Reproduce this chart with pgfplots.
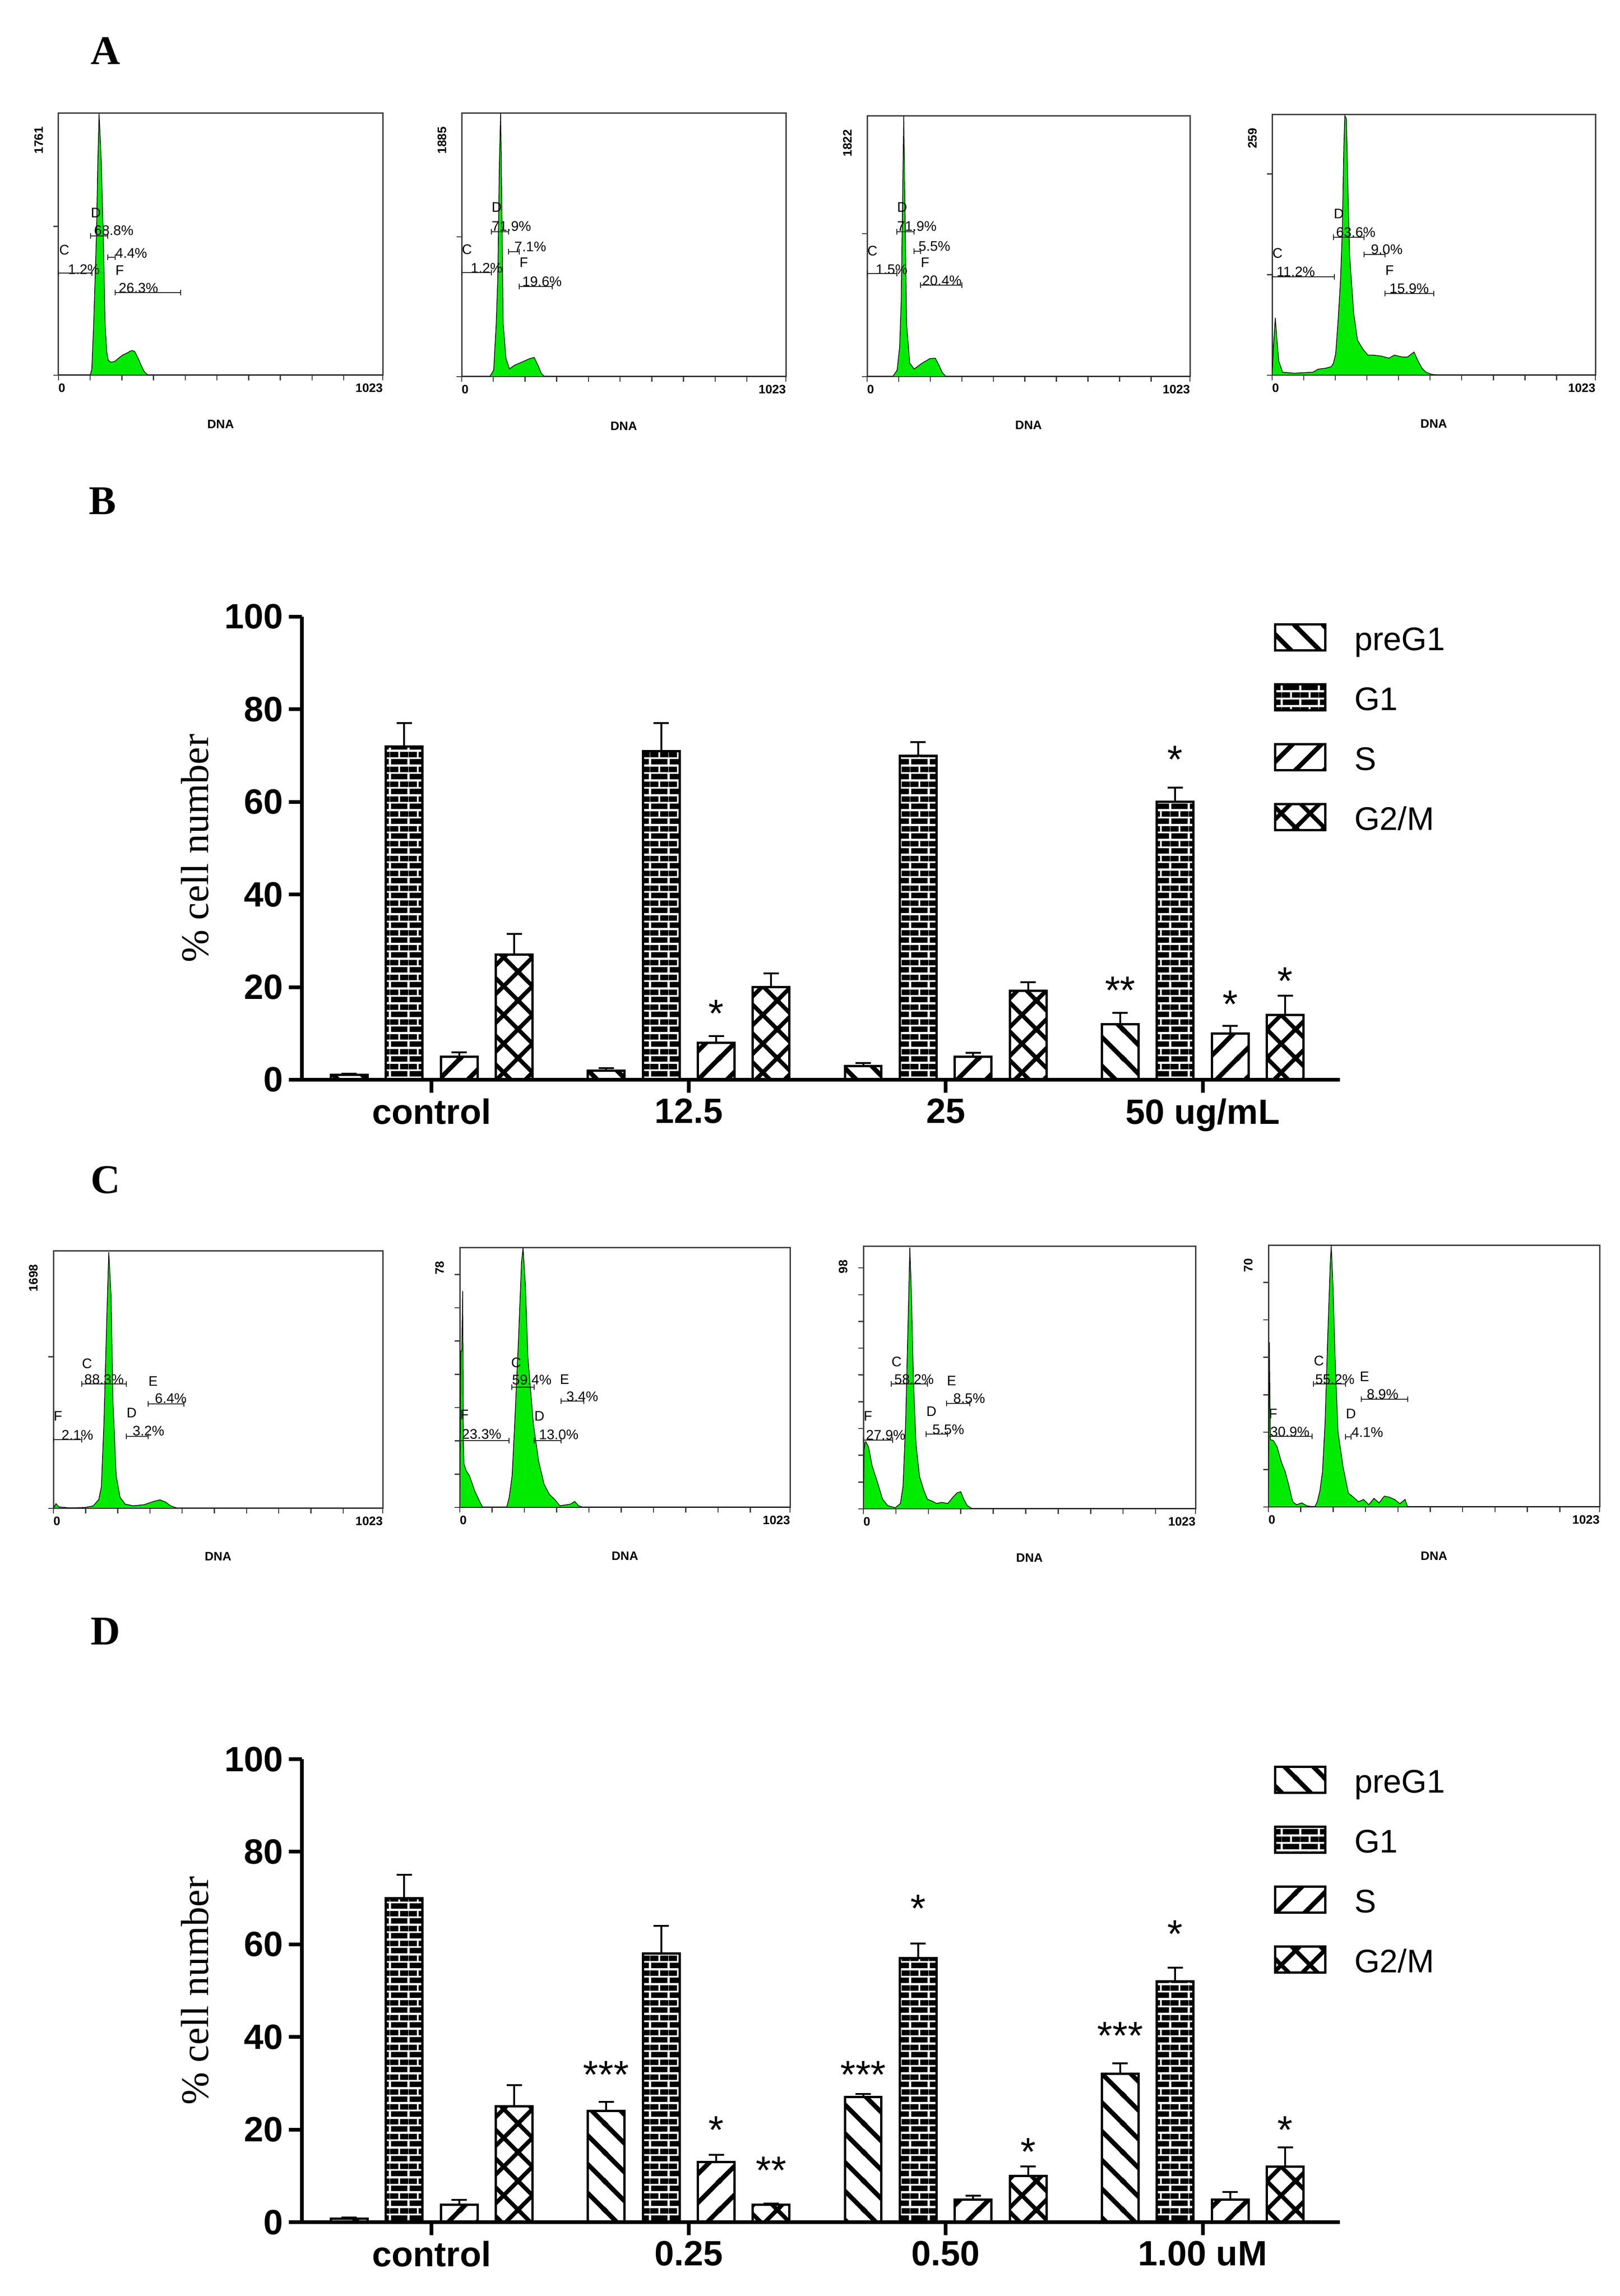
\documentclass[border=0pt]{standalone}
\usepackage{fontspec}
\usepackage{pgfplots}
\pgfplotsset{compat=1.18}
\usetikzlibrary{patterns}
\newfontfamily\arial{Liberation Sans}
\newfontfamily\tnr{Liberation Serif}
\newcommand\tickfont{\arial\bfseries\fontsize{21.5}{25}\selectfont}
\newcommand\legfont{\arial\fontsize{20}{24}\selectfont}
\newcommand\starfont{\arial\fontsize{24}{28}\selectfont}
\newcommand\ylfont{\tnr\fontsize{24}{28}\selectfont}
\newcommand\hfont{\arial\bfseries\fontsize{7.5}{9}\selectfont}
\newcommand\afont{\arial\fontsize{8.5}{10}\selectfont}
\newcommand\panelfont{\tnr\bfseries\fontsize{25}{30}\selectfont}
\definecolor{hgreen}{RGB}{0,235,0}

\pgfdeclarepatternformonly{mynwl}{\pgfqpoint{0mm}{0mm}}{\pgfqpoint{6.2mm}{6.2mm}}{\pgfqpoint{6.2mm}{6.2mm}}{%
  \pgfsetlinewidth{1mm}%
  \pgfpathmoveto{\pgfqpoint{-1mm}{7.2mm}}\pgfpathlineto{\pgfqpoint{7.2mm}{-1mm}}%
  \pgfpathmoveto{\pgfqpoint{-1mm}{1mm}}\pgfpathlineto{\pgfqpoint{1mm}{-1mm}}%
  \pgfpathmoveto{\pgfqpoint{5.2mm}{7.2mm}}\pgfpathlineto{\pgfqpoint{7.2mm}{5.2mm}}%
  \pgfusepath{stroke}}
\pgfdeclarepatternformonly{mynel}{\pgfqpoint{0mm}{0mm}}{\pgfqpoint{6.2mm}{6.2mm}}{\pgfqpoint{6.2mm}{6.2mm}}{%
  \pgfsetlinewidth{1mm}%
  \pgfpathmoveto{\pgfqpoint{-1mm}{-1mm}}\pgfpathlineto{\pgfqpoint{7.2mm}{7.2mm}}%
  \pgfpathmoveto{\pgfqpoint{-1mm}{5.2mm}}\pgfpathlineto{\pgfqpoint{1mm}{7.2mm}}%
  \pgfpathmoveto{\pgfqpoint{5.2mm}{-1mm}}\pgfpathlineto{\pgfqpoint{7.2mm}{1mm}}%
  \pgfusepath{stroke}}
\pgfdeclarepatternformonly{myxhatch}{\pgfqpoint{0mm}{0mm}}{\pgfqpoint{6.2mm}{6.2mm}}{\pgfqpoint{6.2mm}{6.2mm}}{%
  \pgfsetlinewidth{0.9mm}%
  \pgfpathmoveto{\pgfqpoint{-1mm}{7.2mm}}\pgfpathlineto{\pgfqpoint{7.2mm}{-1mm}}%
  \pgfpathmoveto{\pgfqpoint{-1mm}{1mm}}\pgfpathlineto{\pgfqpoint{1mm}{-1mm}}%
  \pgfpathmoveto{\pgfqpoint{5.2mm}{7.2mm}}\pgfpathlineto{\pgfqpoint{7.2mm}{5.2mm}}%
  \pgfpathmoveto{\pgfqpoint{-1mm}{-1mm}}\pgfpathlineto{\pgfqpoint{7.2mm}{7.2mm}}%
  \pgfpathmoveto{\pgfqpoint{-1mm}{5.2mm}}\pgfpathlineto{\pgfqpoint{1mm}{7.2mm}}%
  \pgfpathmoveto{\pgfqpoint{5.2mm}{-1mm}}\pgfpathlineto{\pgfqpoint{7.2mm}{1mm}}%
  \pgfusepath{stroke}}
\pgfdeclarepatternformonly{mybricks}{\pgfqpoint{0mm}{0mm}}{\pgfqpoint{4mm}{3.2mm}}{\pgfqpoint{4mm}{3.2mm}}{%
  \pgfpathrectangle{\pgfqpoint{0.2mm}{0.2mm}}{\pgfqpoint{3.6mm}{1.2mm}}%
  \pgfpathrectangle{\pgfqpoint{0mm}{1.8mm}}{\pgfqpoint{1.8mm}{1.2mm}}%
  \pgfpathrectangle{\pgfqpoint{2.2mm}{1.8mm}}{\pgfqpoint{1.8mm}{1.2mm}}%
  \pgfusepath{fill}}

\pgfplotsset{
  hist/.style={scale only axis, anchor=south west, xmin=0, xmax=1023, ymin=0,
    axis line style={line width=0.3mm, black!75},
    tick style={line width=0.25mm, black!75},
    tick align=outside, major tick length=1.1mm, tick pos=left,
    xtick={0,100,200,300,400,500,600,700,800,900,1023},
    xticklabels={{\rlap{0}},,,,,,,,,,{\llap{1023}}},
    xticklabel style={font=\hfont, inner sep=0pt, anchor=north, yshift=-0.6mm},
    yticklabels={},
    xlabel={DNA},
    xlabel style={font=\hfont, at={(axis description cs:0.5,-0.187)}, anchor=center},
    ylabel style={font=\hfont, at={(axis description cs:-0.061,0.95)}, anchor=east, inner sep=0pt}},
  hplot/.style={fill=hgreen, draw=black, line width=0.15mm},
  barax/.style={scale only axis, anchor=south west, width=223.5mm, height=99.7mm,
    xmin=-0.505, xmax=3.534, ymin=0, ymax=100, clip=false,
    axis x line*=bottom, axis y line*=left,
    axis line style={line width=0.8mm, black},
    tick style={line width=0.8mm, black}, tick align=outside, major tick length=2.8mm,
    xtick={0,1,2,3},
    ytick={0,20,40,60,80,100}, yticklabels={0,20,40,60,80,100},
    ticklabel style={font=\tickfont},
    ylabel={\% cell number},
    ylabel style={font=\ylfont, at={(axis description cs:-0.103,0.5)}, anchor=center},
    legend cell align=left,
    legend style={at={(axis description cs:0.9365,0.987)}, anchor=north west, draw=none, fill=none,
      inner sep=0pt, outer sep=0pt, font=\legfont, row sep=5.3mm, column sep=6mm,
      nodes={inner sep=0pt, text height=6mm, text depth=1.6mm}}},
  mybar/.style={ybar, bar width=0.1426, bar shift=0pt, draw=black, line width=0.5mm,
    legend image code/.code={\draw[##1, line width=0.5mm] (0mm,-2.2mm) rectangle (10.8mm,3.4mm);},
    error bars/y dir=plus, error bars/y explicit,
    error bars/error bar style={line width=0.4mm, black, solid},
    error bars/error mark options={rotate=90, mark size=1.65mm, line width=0.4mm, black}},
  stars/.style={only marks, mark=*, mark size=0pt, mark options={draw=none, fill=none},
    nodes near coords={\pgfplotspointmeta}, point meta=explicit symbolic,
    nodes near coords align={anchor=base},
    every node near coord/.append style={font=\starfont, inner sep=0pt, anchor=base, yshift=-4.9mm}}
}

\newcommand\ann[3]{\node[anchor=base west, inner sep=0pt, font=\afont] at (#1,#2) {#3};}
\newcommand\gate[3]{\draw[line width=0.2mm, black!85] (#1,#3-6) -- (#1,#3+6) (#1,#3) -- (#2,#3) (#2,#3-6) -- (#2,#3+6);}

\begin{document}
\begin{tikzpicture}
\path[use as bounding box] (0,0) rectangle (348.8mm,494.4mm);

% panel letters
\node[font=\panelfont] at (22.7mm,483.4mm) {A};
\node[font=\panelfont] at (22.1mm,386.5mm) {B};
\node[font=\panelfont] at (22.7mm,240.3mm) {C};
\node[font=\panelfont] at (22.7mm,143.1mm) {D};

% ---------- Panel A histograms ----------
\begin{axis}[hist, at={(12.6mm,413.6mm)}, width=69.8mm, height=56.4mm, ymax=1761, ytick={0,1000}, ylabel={1761}]
\addplot[hplot] coordinates {(0,0) (100,0) (105,40) (111,345) (120,966) (124,1432) (128,1761) (135,1432) (141,966) (147,345) (152,160) (157,100) (165,88) (177,92) (190,115) (202,135) (215,148) (225,160) (232,166) (240,160) (250,120) (260,70) (270,26) (282,0) (1023,0)} \closedcycle;
\end{axis}
\begin{axis}[hist, at={(99.4mm,413.3mm)}, width=69.8mm, height=56.7mm, ymax=1885, ytick={0,1000}, ylabel={1885}]
\addplot[hplot] coordinates {(0,0) (89,0) (101,46) (109,377) (114,708) (119,1535) (123,1885) (126,1369) (131,377) (140,129) (151,55) (165,79) (190,104) (215,129) (229,137) (241,79) (252,21) (262,0) (1023,0)} \closedcycle;
\end{axis}
\begin{axis}[hist, at={(186.7mm,413.3mm)}, width=69.5mm, height=56.1mm, ymax=1822, ytick={0,1000}, ylabel={1822}]
\addplot[hplot] coordinates {(0,0) (81,0) (95,45) (103,207) (108,530) (113,1337) (116,1822) (120,1176) (125,368) (135,94) (149,53) (174,94) (199,126) (216,129) (228,78) (238,29) (250,0) (1023,0)} \closedcycle;
\end{axis}
\begin{axis}[hist, at={(273.9mm,413.6mm)}, width=69.6mm, height=56.1mm, ymax=259, ytick={0,100,200}, ylabel={259}]
\addplot[hplot] coordinates {(0,0) (4,28) (10,57) (14,40) (21,14) (33,3) (71,2) (129,3) (146,6) (170,7) (187,8.5) (194,12) (201,21) (208,51) (216,92) (222,143) (227,228) (230,258) (235,255) (240,184) (245,120) (258,62) (270,35) (287,26) (303,20) (320,20) (345,19) (370,17) (387,20) (412,18) (428,18) (449,23) (462,14) (474,7) (487,3) (503,1) (524,0) (1023,0)} \closedcycle;
\end{axis}

% ---------- Panel C histograms ----------
\begin{axis}[hist, at={(11.5mm,169.6mm)}, width=70.9mm, height=55.4mm, ymax=1698, ytick={0,1000}, ylabel={1698}]
\addplot[hplot] coordinates {(0,0) (8,31) (17,10) (50,3) (99,6) (124,17) (141,59) (149,143) (157,566) (166,1269) (172,1691) (179,1409) (185,706) (195,214) (207,73) (223,28) (248,17) (281,24) (315,48) (331,56) (348,42) (364,17) (386,0) (1023,0)} \closedcycle;
\end{axis}
\begin{axis}[hist, at={(99.0mm,169.8mm)}, width=71.1mm, height=55.9mm, ymax=78, ytick={0,10,20,30,40,50,60,70}, ylabel={78}]
\addplot[hplot] coordinates {(0,0) (3,47) (6,47) (9,65) (11,20) (13,13) (20,11) (30,9.5) (46,5) (63,1.5) (71,0) (145,0) (153,3) (162,9.5) (170,25) (182,51) (191,73.5) (196,78) (203,67) (211,45) (228,25) (244,14) (261,7) (277,4) (294,2.4) (310,0.5) (343,1) (356,1.8) (368,0.5) (384,0) (1023,0)} \closedcycle;
\end{axis}
\begin{axis}[hist, at={(185.9mm,169.5mm)}, width=71.5mm, height=56.5mm, ymax=98, ytick={0,10,20,30,40,50,60,70,80,90}, ylabel={98}]
\addplot[hplot] coordinates {(0,0) (2,22) (5,25) (8,25) (16,23) (27,16) (43,10) (59,3.6) (75,1.2) (98,0.4) (114,2) (122,8.4) (130,32) (138,72) (143,97.6) (148,80) (154,48) (162,24) (173,12) (186,7) (197,3.6) (213,2.8) (225,2) (241,2.4) (260,2) (276,4.4) (289,6) (300,6.4) (309,3.6) (320,1.2) (336,0) (1023,0)} \closedcycle;
\end{axis}
\begin{axis}[hist, at={(273.1mm,169.9mm)}, width=71.3mm, height=56.4mm, ymax=70, ytick={0,10,20,30,40,50,60}, ylabel={70}]
\addplot[hplot] coordinates {(0,0) (3,44) (6,18) (16,17.7) (27,16) (40,12) (52,9.4) (64,5.4) (75,1.4) (87,0.6) (103,1.1) (119,0.3) (143,0) (151,1.4) (159,4.3) (167,9.4) (175,22.5) (183,45) (191,65) (194,70) (199,60) (207,37) (215,20) (231,10.5) (247,3.7) (263,2.6) (278,1.4) (294,2) (310,0.6) (326,2.3) (342,1.1) (358,2.9) (374,2.6) (390,2) (406,0.9) (422,2) (430,0) (1023,0)} \closedcycle;
\end{axis}

% ---------- annotations (page pixel coordinates, y from top) ----------
\begin{scope}[shift={(0,494.4mm)}, x=0.1mm, y=-0.1mm]
% A1
\ann{195}{469}{D} \ann{202}{507}{68.8\%} \gate{195}{232}{508}
\ann{127}{549}{C} \ann{146}{591}{1.2\%} \gate{126}{198}{588}
\ann{248}{556}{4.4\%} \gate{232}{248}{554}
\ann{248}{593}{F} \ann{255}{631}{26.3\%} \gate{248}{389}{630}
% A2
\ann{1058}{457}{D} \ann{1058}{498}{71.9\%} \gate{1058}{1095}{499}
\ann{994}{548}{C} \ann{1013}{588}{1.2\%} \gate{994}{1058}{587}
\ann{1107}{542}{7.1\%} \gate{1095}{1118}{542}
\ann{1118}{576}{F} \ann{1124}{617}{19.6\%} \gate{1118}{1189}{617}
% A3
\ann{1931}{457}{D} \ann{1931}{498}{71.9\%} \gate{1931}{1968}{499}
\ann{1867}{551}{C} \ann{1885}{591}{1.5\%} \gate{1867}{1931}{589}
\ann{1977}{541}{5.5\%} \gate{1968}{1982}{541}
\ann{1982}{576}{F} \ann{1985}{615}{20.4\%} \gate{1982}{2071}{614}
% A4
\ann{2739}{556}{C} \ann{2748}{596}{11.2\%} \gate{2739}{2873}{596}
\ann{2871}{471}{D} \ann{2876}{511}{63.6\%} \gate{2871}{2937}{511}
\ann{2951}{548}{9.0\%} \gate{2937}{2982}{548}
\ann{2982}{593}{F} \ann{2991}{632}{15.9\%} \gate{2982}{3087}{632}
% C1
\ann{176}{2946}{C} \ann{181}{2980}{88.3\%} \gate{176}{272}{2980}
\ann{319}{2984}{E} \ann{333}{3021}{6.4\%} \gate{319}{396}{3023}
\ann{272}{3052}{D} \ann{285}{3091}{3.2\%} \gate{272}{319}{3093}
\ann{115}{3059}{F} \ann{132}{3100}{2.1\%} \gate{115}{176}{3100}
% C2
\ann{1100}{2944}{C} \ann{1102}{2981}{59.4\%} \gate{1102}{1150}{2987}
\ann{1205}{2980}{E} \ann{1219}{3017}{3.4\%} \gate{1208}{1257}{3017}
\ann{1150}{3059}{D} \ann{1160}{3099}{13.0\%} \gate{1150}{1208}{3102}
\ann{990}{3056}{F} \ann{994}{3098}{23.3\%} \gate{990}{1096}{3102}
% C3
\ann{1919}{2942}{C} \ann{1925}{2980}{58.2\%} \gate{1919}{1997}{2980}
\ann{2038}{2983}{E} \ann{2052}{3021}{8.5\%} \gate{2038}{2088}{3022}
\ann{1994}{3049}{D} \ann{2007}{3088}{5.5\%} \gate{1994}{2040}{3088}
\ann{1859}{3059}{F} \ann{1864}{3100}{27.9\%} \gate{1859}{1922}{3101}
% C4
\ann{2828}{2940}{C} \ann{2831}{2980}{55.2\%} \gate{2828}{2897}{2980}
\ann{2927}{2974}{E} \ann{2942}{3012}{8.9\%} \gate{2931}{3031}{3013}
\ann{2897}{3054}{D} \ann{2909}{3094}{4.1\%} \gate{2897}{2909}{3094}
\ann{2731}{3054}{F} \ann{2734}{3093}{30.9\%} \gate{2731}{2825}{3093}
\end{scope}

% ---------- Panel B ----------
\begin{axis}[barax, at={(65.0mm,261.9mm)}, xticklabels={control,12.5,25,50 ug/mL}]
\addplot[mybar, pattern=mynwl] coordinates {(-0.321,1.0) +- (0,0.3) (0.679,2.0) +- (0,0.5) (1.679,3.0) +- (0,0.6) (2.679,12.0) +- (0,2.4)};
\addlegendentry{preG1}
\addplot[mybar, pattern=mybricks] coordinates {(-0.107,72) +- (0,5) (0.893,71) +- (0,6) (1.893,70) +- (0,2.9) (2.893,60) +- (0,3.1)};
\addlegendentry{G1}
\addplot[mybar, pattern=mynel] coordinates {(0.107,5) +- (0,0.9) (1.107,8) +- (0,1.4) (2.107,5) +- (0,0.8) (3.107,10) +- (0,1.6)};
\addlegendentry{S}
\addplot[mybar, pattern=myxhatch] coordinates {(0.321,27) +- (0,4.5) (1.321,20) +- (0,3) (2.321,19.2) +- (0,1.9) (3.321,14) +- (0,4.2)};
\addlegendentry{G2/M}
\addplot[stars] coordinates {(1.107,16.3) [*] (2.679,21.3) [**] (2.893,71.2) [*] (3.107,18.3) [*] (3.321,23.3) [*]};
\end{axis}

% ---------- Panel D ----------
\begin{axis}[barax, at={(65.0mm,15.9mm)}, xticklabels={control,0.25,0.50,1.00 uM}]
\addplot[mybar, pattern=mynwl] coordinates {(-0.321,0.8) +- (0,0.2) (0.679,24) +- (0,2) (1.679,27) +- (0,0.7) (2.679,32) +- (0,2.3)};
\addlegendentry{preG1}
\addplot[mybar, pattern=mybricks] coordinates {(-0.107,70) +- (0,5) (0.893,58) +- (0,6) (1.893,57) +- (0,3.2) (2.893,52) +- (0,3)};
\addlegendentry{G1}
\addplot[mybar, pattern=mynel] coordinates {(0.107,3.8) +- (0,1) (1.107,13) +- (0,1.5) (2.107,4.9) +- (0,0.8) (3.107,4.9) +- (0,1.6)};
\addlegendentry{S}
\addplot[mybar, pattern=myxhatch] coordinates {(0.321,25) +- (0,4.6) (1.321,3.8) +- (0,0.2) (2.321,10) +- (0,2) (3.321,12) +- (0,4.1)};
\addlegendentry{G2/M}
\addplot[stars] coordinates {(0.679,33.9) [***] (1.107,21.9) [*] (1.321,13.2) [**] (1.679,33.9) [***] (1.893,69.8) [*] (2.321,17.2) [*] (2.679,42.3) [***] (2.893,64.2) [*] (3.321,21.9) [*]};
\end{axis}
\end{tikzpicture}
\end{document}
